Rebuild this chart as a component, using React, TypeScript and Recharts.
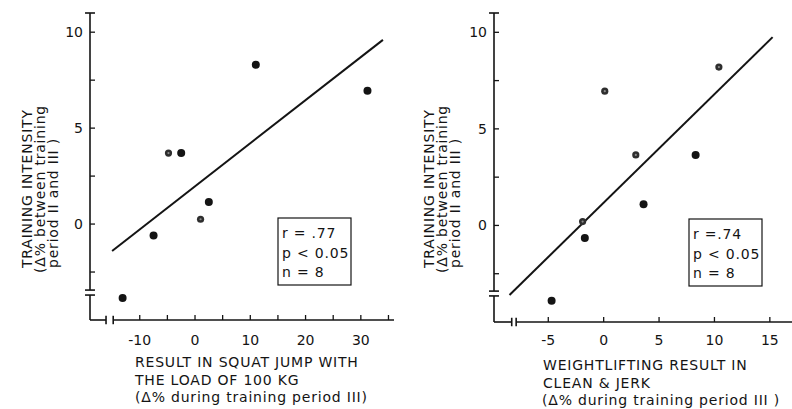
import React from 'react';
import { ScatterChart, Scatter, XAxis, YAxis, ReferenceLine } from 'recharts';

// left panel: squat jump vs training intensity
const leftSolid = [
  { x: -13.1, y: -3.85 },
  { x: -7.5, y: -0.6 },
  { x: -2.5, y: 3.7 },
  { x: 2.5, y: 1.15 },
  { x: 11, y: 8.3 },
  { x: 31.2, y: 6.95 },
];
const leftHatched = [
  { x: -4.8, y: 3.7 },
  { x: 1, y: 0.25 },
];
const leftFit = [
  { x: -15, y: -1.4 },
  { x: 34, y: 9.6 },
];
const leftXTicks = [-10, -5, 0, 5, 10, 15, 20, 25, 30, 35];
const leftXLabels = [-10, 0, 10, 20, 30];

// right panel: clean & jerk vs training intensity
const rightSolid = [
  { x: -4.7, y: -3.9 },
  { x: -1.7, y: -0.65 },
  { x: 3.6, y: 1.1 },
  { x: 8.3, y: 3.65 },
];
const rightHatched = [
  { x: -1.9, y: 0.2 },
  { x: 0.1, y: 6.95 },
  { x: 2.9, y: 3.65 },
  { x: 10.4, y: 8.2 },
];
const rightFit = [
  { x: -8.5, y: -3.6 },
  { x: 15.25, y: 9.75 },
];
const rightXTicks = [-5, 0, 5, 10, 15];
const rightXLabels = [-5, 0, 5, 10, 15];

const yTicks = [-2.5, 0, 2.5, 5, 7.5, 10];
const yLabels = [0, 5, 10];

const FONT = '"DejaVu Sans", sans-serif';
const INK = '#141414';

const SolidDot = (props: any) => <circle cx={props.cx} cy={props.cy} r={4} fill={INK} />;
const HatchDot = (props: any) => (
  <g>
    <circle cx={props.cx} cy={props.cy} r={3.6} fill="#2e2e2e" />
    <circle cx={props.cx} cy={props.cy} r={1.1} fill="#8a8a8a" />
  </g>
);

const makeXTick = (labels: number[], dy: number) => (props: any) => {
  const { x, y, payload } = props;
  const v = payload.value;
  return (
    <g>
      <line x1={x} x2={x} y1={y} y2={y - 5} stroke={INK} strokeWidth={1.3} />
      {labels.includes(v) && (
        <text x={x} y={y + dy} textAnchor="middle" fontSize={14} fontFamily={FONT} fill={INK}>
          {v < 0 ? '-' + Math.abs(v) : v}
        </text>
      )}
    </g>
  );
};

const YTick = (props: any) => {
  const { x, y, payload } = props;
  const v = payload.value;
  return (
    <g>
      <line x1={x} x2={x + 5} y1={y} y2={y} stroke={INK} strokeWidth={1.3} />
      {yLabels.includes(v) && (
        <text x={x - 7} y={y + 5} textAnchor="end" fontSize={14} fontFamily={FONT} fill={INK}>
          {v}
        </text>
      )}
    </g>
  );
};

interface PanelProps {
  solid: { x: number; y: number }[];
  hatched: { x: number; y: number }[];
  fit: { x: number; y: number }[];
  xDomain: [number, number];
  xTicks: number[];
  xLabels: number[];
  width: number;
  margin: { top: number; right: number; bottom: number; left: number };
  breaks: { yHi: number; yLo: number; xA: number; xB: number; capX: number; capY: number };
  tickDy: number;
}

function Panel({ solid, hatched, fit, xDomain, xTicks, xLabels, width, margin, breaks, tickDy }: PanelProps) {
  const x0 = xDomain[0];
  const line = { stroke: INK, strokeWidth: 1.6, ifOverflow: 'visible' as const };
  return (
    <ScatterChart width={width} height={409} margin={margin}>
      <XAxis
        type="number"
        dataKey="x"
        domain={xDomain}
        ticks={xTicks}
        interval={0}
        height={30}
        axisLine={false}
        tickLine={false}
        tickSize={0}
        tickMargin={0}
        tick={makeXTick(xLabels, tickDy)}
        allowDataOverflow
      />
      <YAxis
        type="number"
        dataKey="y"
        domain={[-5, 11]}
        ticks={yTicks}
        interval={0}
        width={40}
        axisLine={false}
        tickLine={false}
        tickSize={0}
        tickMargin={0}
        tick={YTick}
        allowDataOverflow
      />
      {/* broken axes drawn by hand */}
      <ReferenceLine segment={[{ x: x0, y: 11 }, { x: x0, y: breaks.yHi }]} {...line} />
      <ReferenceLine segment={[{ x: x0, y: breaks.yLo }, { x: x0, y: -5 }]} {...line} />
      <ReferenceLine segment={[{ x: x0 - breaks.capX, y: 11 }, { x: x0 + breaks.capX, y: 11 }]} {...line} />
      <ReferenceLine segment={[{ x: x0 - breaks.capX, y: breaks.yHi }, { x: x0 + breaks.capX, y: breaks.yHi }]} {...line} />
      <ReferenceLine segment={[{ x: x0 - breaks.capX, y: breaks.yLo }, { x: x0 + breaks.capX, y: breaks.yLo }]} {...line} />
      <ReferenceLine segment={[{ x: x0, y: -5 }, { x: breaks.xA, y: -5 }]} {...line} />
      <ReferenceLine segment={[{ x: breaks.xB, y: -5 }, { x: xDomain[1], y: -5 }]} {...line} />
      <ReferenceLine segment={[{ x: breaks.xA, y: -5 - breaks.capY }, { x: breaks.xA, y: -5 + breaks.capY }]} {...line} />
      <ReferenceLine segment={[{ x: breaks.xB, y: -5 - breaks.capY }, { x: breaks.xB, y: -5 + breaks.capY }]} {...line} />
      {/* regression line */}
      <ReferenceLine segment={fit} stroke={INK} strokeWidth={2} ifOverflow="visible" />
      <Scatter data={solid} shape={SolidDot} isAnimationActive={false} />
      <Scatter data={hatched} shape={HatchDot} isAnimationActive={false} />
    </ScatterChart>
  );
}

const txt: any = { fontFamily: FONT, fontSize: 14, letterSpacing: 0.8, fill: INK };

function YTitle({ dx }: { dx: number }) {
  return (
    <g style={txt}>
      <text transform={`translate(${32 + dx},268) rotate(-90)`}>TRAINING INTENSITY</text>
      <text transform={`translate(${45 + dx},273) rotate(-90)`}>(Δ% between training</text>
      <text transform={`translate(${58 + dx},268) rotate(-90)`}>period II and III )</text>
    </g>
  );
}

function StatBox({ x, y, r }: { x: number; y: number; r: string }) {
  return (
    <g style={txt}>
      <rect x={x} y={y} width={73} height={67} fill="#fff" stroke={INK} strokeWidth={1.2} />
      <text x={x + 4} y={y + 20}>{r}</text>
      <text x={x + 4} y={y + 40}>p &lt; 0.05</text>
      <text x={x + 4} y={y + 59}>n = 8</text>
    </g>
  );
}

export default function App() {
  return (
    <div style={{ position: 'absolute', left: 0, top: 0, width: 792, height: 409, background: '#fff' }}>
      <div style={{ position: 'absolute', left: 0, top: 0 }}>
        <Panel
          solid={leftSolid}
          hatched={leftHatched}
          fit={leftFit}
          xDomain={[-19, 36]}
          xTicks={leftXTicks}
          xLabels={leftXLabels}
          width={400}
          margin={{ top: 13, right: 6, bottom: 59, left: 50 }}
          breaks={{ yHi: -3.44, yLo: -3.7, xA: -16.1, xB: -14.8, capX: 0.9, capY: 0.22 }}
          tickDy={25}
        />
      </div>
      <div style={{ position: 'absolute', left: 400, top: 0 }}>
        <Panel
          solid={rightSolid}
          hatched={rightHatched}
          fit={rightFit}
          xDomain={[-9.9, 17]}
          xTicks={rightXTicks}
          xLabels={rightXLabels}
          width={392}
          margin={{ top: 13, right: 0, bottom: 57, left: 54 }}
          breaks={{ yHi: -3.4, yLo: -3.65, xA: -8.3, xB: -7.9, capX: 0.45, capY: 0.22 }}
          tickDy={23}
        />
      </div>
      <svg width={792} height={409} style={{ position: 'absolute', left: 0, top: 0, pointerEvents: 'none' }}>
        <YTitle dx={0} />
        <YTitle dx={402} />
        <StatBox x={278} y={218} r="r = .77" />
        <StatBox x={689} y={219} r="r =.74" />
        <g style={txt}>
          <text x={135} y={367}>RESULT IN SQUAT JUMP WITH</text>
          <text x={135} y={385}>THE LOAD OF 100 KG</text>
          <text x={135} y={402}>(Δ% during training period III)</text>
          <text x={543} y={370}>WEIGHTLIFTING RESULT IN</text>
          <text x={543} y={388}>CLEAN &amp; JERK</text>
          <text x={542} y={405}>(Δ% during training period III )</text>
        </g>
      </svg>
    </div>
  );
}
